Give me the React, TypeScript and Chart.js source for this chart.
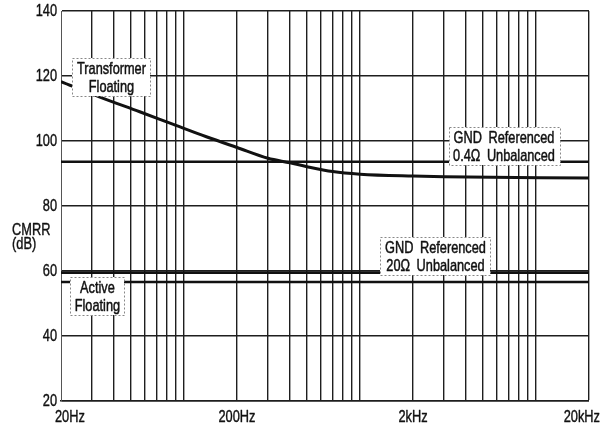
import React, { useEffect, useRef } from "react";
import { Chart, registerables } from "chart.js";

Chart.register(...registerables);

// Axis ranges
const FREQ_MIN = 20;
const FREQ_MAX = 20000;
const CMRR_MIN = 20;
const CMRR_MAX = 140;
const CMRR_STEP = 20;

// Transformer-floating CMRR versus frequency
const transformerFreq = [20, 33, 56, 87, 134, 200, 300, 400, 500, 700, 1000, 2000, 3000, 20000];
const transformerCmrr = [118.3, 113.6, 109.0, 105.1, 101.3, 98.0, 94.7, 93.3, 92.1, 90.6, 89.8, 89.2, 89.0, 88.6];

// Flat responses across the band
const flatFreq = [20, 20000];
const gnd04Cmrr = [93.6, 93.6];
const gnd20Cmrr = [59.5, 59.5];
const activeCmrr = [56.6, 56.6];

// Axis labels
const xTickValues = [20, 200, 2000, 20000];
const xTickLabels = ["20Hz", "200Hz", "2kHz", "20kHz"];
const yTickValues = [20, 40, 60, 80, 100, 120, 140];
const yTitleLines = ["CMRR", "(dB)"];

// Curve callouts
const calloutLines = [
  ["Transformer", "Floating"],
  ["GND Referenced", "0.4\u03A9 Unbalanced"],
  ["GND Referenced", "20\u03A9 Unbalanced"],
  ["Active", "Floating"],
];
const calloutFreq = [38.7, 6578, 2684, 32.2];
const calloutCmrr = [119.7, 98.5, 64.5, 52.2];

const FONT_FAMILY = '"Liberation Sans", Arial, sans-serif';
const INK = "#111";
const GRID = "#1e1e1e";

// 1-2-...-9 decade grid between the axis limits
function decadeGrid(min: number, max: number): number[] {
  const out: number[] = [];
  for (let p = Math.pow(10, Math.floor(Math.log10(min))); p <= max; p *= 10) {
    for (let m = 1; m <= 9; m++) {
      const v = Math.round(m * p);
      if (v >= min && v <= max) out.push(v);
    }
  }
  return out;
}

const pairs = (xs: number[], ys: number[]) => xs.map((x, i) => ({ x, y: ys[i] }));

// Horizontally condensed text (narrow grotesque look), with a hairline stroke for weight
function textWidth(ctx: CanvasRenderingContext2D, s: string, sx: number) {
  return ctx.measureText(s).width * sx;
}
function condensedText(
  ctx: CanvasRenderingContext2D,
  s: string,
  x: number,
  y: number,
  sx: number,
  weight: number
) {
  ctx.save();
  ctx.translate(x, y);
  ctx.scale(sx, 1);
  ctx.fillText(s, 0, 0);
  if (weight > 0) {
    ctx.strokeStyle = ctx.fillStyle as string;
    ctx.lineWidth = weight;
    ctx.lineJoin = "round";
    ctx.strokeText(s, 0, 0);
  }
  ctx.restore();
}

const LABEL_SX = 0.75;
const TICK_SX = 0.8;

const textPlugin = {
  id: "cmrrText",
  afterDatasetsDraw(chart: any) {
    const { ctx, chartArea, scales } = chart;
    const xs = scales.x;
    const ys = scales.y;
    const W = chart.width;
    ctx.save();

    // callout boxes over the curves
    ctx.font = `17px ${FONT_FAMILY}`;
    (ctx as any).wordSpacing = "4px";
    calloutLines.forEach((lines, i) => {
      const cx = xs.getPixelForValue(calloutFreq[i]);
      const cy = ys.getPixelForValue(calloutCmrr[i]);
      const w = Math.round(Math.max(...lines.map((l) => textWidth(ctx, l, LABEL_SX))) + 9);
      const h = 38;
      const bx = Math.round(cx - w / 2);
      const by = Math.round(cy - h / 2);
      ctx.fillStyle = "#fff";
      ctx.fillRect(bx, by, w, h);
      ctx.setLineDash([2, 2]);
      ctx.strokeStyle = "#888";
      ctx.lineWidth = 1;
      ctx.strokeRect(bx + 0.5, by + 0.5, w, h);
      ctx.setLineDash([]);
      ctx.fillStyle = INK;
      ctx.textAlign = "center";
      ctx.textBaseline = "middle";
      lines.forEach((l, j) => condensedText(ctx, l, cx, cy + (j - 0.5) * 18 + 1, LABEL_SX, 0.5));
    });
    (ctx as any).wordSpacing = "0px";

    // y tick labels
    ctx.font = `16px ${FONT_FAMILY}`;
    ctx.fillStyle = INK;
    ctx.textAlign = "right";
    ctx.textBaseline = "middle";
    yTickValues.forEach((v) => {
      condensedText(ctx, String(v), chartArea.left - 4, ys.getPixelForValue(v) + 1, TICK_SX, 0.4);
    });

    // x tick labels, kept inside the canvas at both ends
    ctx.textBaseline = "alphabetic";
    ctx.textAlign = "center";
    xTickValues.forEach((v, i) => {
      const w = textWidth(ctx, xTickLabels[i], TICK_SX);
      let px = xs.getPixelForValue(v);
      px = Math.min(Math.max(px, chartArea.left - 6 + w / 2), W - 5 - w / 2);
      condensedText(ctx, xTickLabels[i], px, chartArea.bottom + 21, TICK_SX, 0.4);
    });

    // y axis title
    ctx.textAlign = "left";
    yTitleLines.forEach((l, j) => condensedText(ctx, l, 12, 235 + j * 14, TICK_SX, 0.4));

    ctx.restore();
  },
};

export default function App() {
  const canvasRef = useRef<HTMLCanvasElement | null>(null);

  useEffect(() => {
    const canvas = canvasRef.current;
    if (!canvas) return;
    const gridFreqs = decadeGrid(FREQ_MIN, FREQ_MAX);
    const lineStyle = {
      borderColor: INK,
      pointRadius: 0,
      fill: false,
    };
    const chart = new Chart(canvas, {
      type: "line",
      data: {
        datasets: [
          {
            label: "Transformer Floating",
            data: pairs(transformerFreq, transformerCmrr),
            borderWidth: 3,
            cubicInterpolationMode: "monotone",
            ...lineStyle,
          },
          { label: "GND Referenced 0.4\u03A9 Unbalanced", data: pairs(flatFreq, gnd04Cmrr), borderWidth: 2.6, ...lineStyle },
          { label: "GND Referenced 20\u03A9 Unbalanced", data: pairs(flatFreq, gnd20Cmrr), borderWidth: 2.6, ...lineStyle },
          { label: "Active Floating", data: pairs(flatFreq, activeCmrr), borderWidth: 2.6, ...lineStyle },
        ],
      },
      options: {
        animation: false,
        responsive: false,
        devicePixelRatio: 1,
        layout: { padding: { left: 61, right: 16, top: 11, bottom: 26 } },
        plugins: { legend: { display: false }, tooltip: { enabled: false }, title: { display: false } },
        scales: {
          x: {
            type: "logarithmic",
            min: FREQ_MIN,
            max: FREQ_MAX,
            afterBuildTicks: (scale: any) => {
              scale.ticks = gridFreqs.map((v) => ({ value: v }));
            },
            afterFit: (scale: any) => {
              scale.height = 0;
            },
            ticks: { display: false },
            grid: {
              color: GRID,
              lineWidth: (c: any) => (c.index === 0 ? 0 : 1.4),
              drawTicks: false,
            },
            border: { display: true, color: GRID, width: 1.4 },
          },
          y: {
            type: "linear",
            min: CMRR_MIN,
            max: CMRR_MAX,
            ticks: { display: false, stepSize: CMRR_STEP },
            afterFit: (scale: any) => {
              scale.width = 0;
            },
            grid: { color: GRID, lineWidth: 1.4, drawTicks: false },
            border: { display: true, color: "#555", width: 1 },
          },
        },
      },
      plugins: [textPlugin],
    });
    return () => chart.destroy();
  }, []);

  return (
    <div style={{ position: "absolute", left: 0, top: 0, width: 605, height: 427, background: "#fff" }}>
      <canvas ref={canvasRef} width={605} height={427} style={{ display: "block" }} />
    </div>
  );
}
